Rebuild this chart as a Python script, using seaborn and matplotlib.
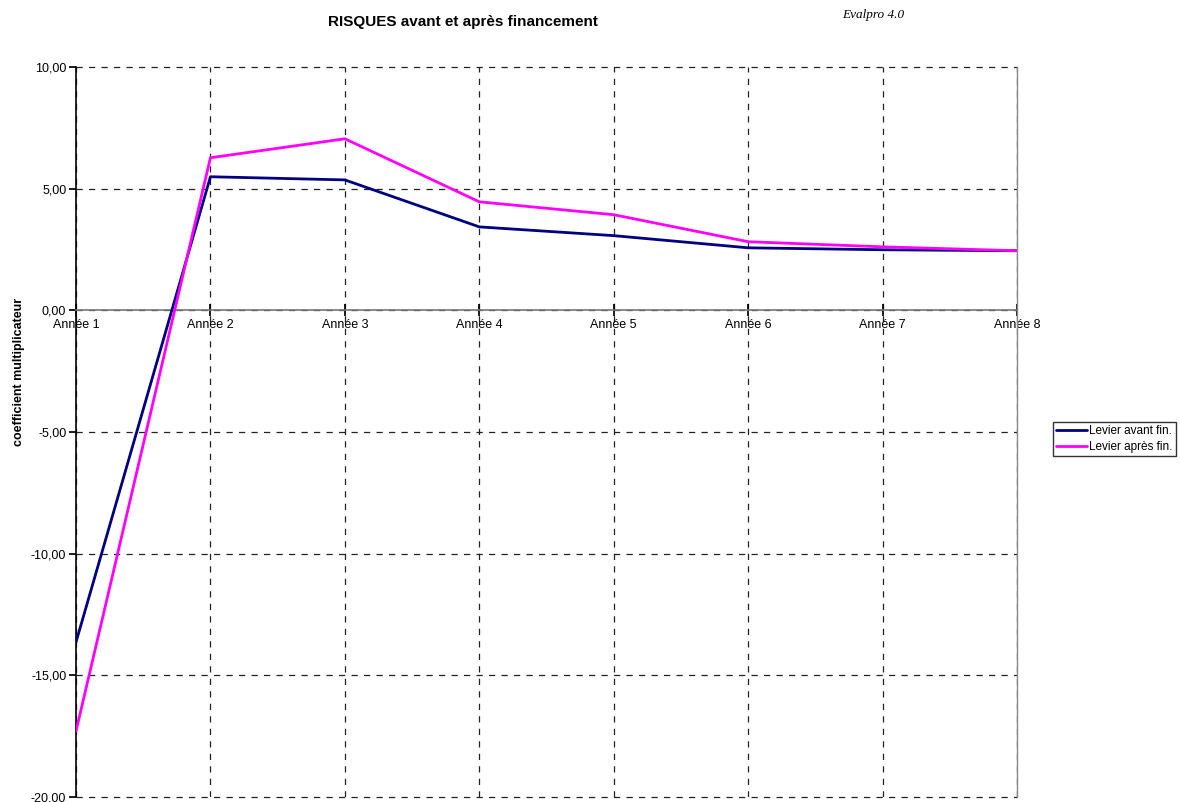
import matplotlib
matplotlib.use("Agg")
import matplotlib.pyplot as plt
import matplotlib.ticker as mticker
import numpy as np
import pandas as pd
import seaborn as sns

# values
annees = ["Année 1", "Année 2", "Année 3", "Année 4", "Année 5", "Année 6", "Année 7", "Année 8"]
levier_avant = [-13.63, 5.49, 5.36, 3.43, 3.07, 2.57, 2.49, 2.45]
levier_apres = [-17.29, 6.27, 7.05, 4.46, 3.93, 2.82, 2.61, 2.45]
y_ticks = [10, 5, 0, -5, -10, -15, -20]

sns.set_theme(style="white")
plt.rcParams["font.family"] = ["Liberation Sans", "DejaVu Sans"]
plt.rcParams.update({"text.color": "black", "axes.labelcolor": "black",
                     "xtick.color": "black", "ytick.color": "black"})

df = pd.DataFrame({
    "idx": list(range(len(annees))) * 2,
    "valeur": levier_avant + levier_apres,
    "serie": ["Levier avant fin."] * len(annees) + ["Levier après fin."] * len(annees),
})

fig = plt.figure(figsize=(11.8, 8.02), dpi=100)
ax = fig.add_axes([0.0644, 0.006, 0.7975, 0.9105])

sns.lineplot(
    data=df, x="idx", y="valeur", hue="serie",
    palette={"Levier avant fin.": "#000080", "Levier après fin.": "#FF00FF"},
    linewidth=2, ax=ax, legend=True, zorder=3,
)

ax.set_xlim(0, len(annees) - 1)
ax.set_ylim(min(y_ticks), max(y_ticks))
ax.set_xticks(range(len(annees)))
ax.set_xticklabels(annees)
ax.set_yticks(y_ticks)
ax.yaxis.set_major_formatter(mticker.FuncFormatter(lambda v, p: f"{v:.2f}".replace(".", ",")))

# dashed grid, not clipped at the edges
ax.grid(True, color="#222222", linestyle=(0, (5, 5)), linewidth=0.9)
ax.set_axisbelow(True)
for gl in ax.get_xgridlines() + ax.get_ygridlines():
    gl.set_clip_on(False)

ax.spines["top"].set_visible(False)
ax.spines["right"].set_color("#888888")
ax.spines["right"].set_linewidth(1)
ax.spines["left"].set_color("black")
ax.spines["left"].set_linewidth(1.2)
ax.spines["bottom"].set_position(("data", 0))
ax.spines["bottom"].set_color("#777777")
ax.spines["bottom"].set_linewidth(1.2)

ax.tick_params(axis="x", direction="inout", length=8, color="black", labelsize=9, pad=2, bottom=True)
ax.tick_params(axis="y", direction="out", length=5, color="black", labelsize=9, pad=2, left=True)

ax.set_xlabel("")
ax.set_ylabel("")
fig.text(0.016, 0.536, "coefficient multiplicateur", rotation=90, ha="center", va="center",
         fontsize=9, fontweight="bold")

handles, labels = ax.get_legend_handles_labels()
ax.legend(handles, labels, loc="upper left", bbox_to_anchor=(0.892, 0.474),
          bbox_transform=fig.transFigure, frameon=True, fancybox=False,
          edgecolor="black", fontsize=8.5, handlelength=2.6, handletextpad=0.2,
          borderpad=0.3, labelspacing=0.3, borderaxespad=0)

fig.text(0.392, 0.972, "RISQUES avant et après financement", ha="center", va="center",
         fontsize=11, fontweight="bold")
fig.text(0.74, 0.981, "Evalpro 4.0", ha="center", va="center", fontsize=9.5,
         style="italic", family=["Liberation Serif", "DejaVu Serif"])

fig.savefig("out.png", dpi=100)
